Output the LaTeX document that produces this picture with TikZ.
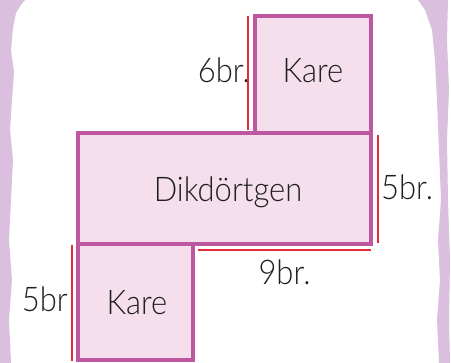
\documentclass[tikz,border=0pt]{standalone}
\usepackage{fontspec}
\setmainfont{Lato Light}
\usetikzlibrary{calc}
\definecolor{boxfill}{RGB}{245,223,237}
\definecolor{boxline}{RGB}{189,88,160}
\definecolor{dimred}{RGB}{232,40,60}
\definecolor{brush}{RGB}{218,192,222}
\newcommand{\narrowtxt}[1]{\scalebox{0.91}[1]{#1}}
\begin{document}
\begin{tikzpicture}[x=1pt,y=-1pt,
  shapebox/.style={draw=boxline, fill=boxfill, line width=3.2pt, inner sep=0pt, outer sep=0pt},
  dim/.style={draw=dimred, line width=1.3pt},
  lbl/.style={font=\fontsize{34}{34}\selectfont, inner sep=0pt, text=black!88, anchor=base}]
\useasboundingbox (0,0) rectangle (451,363);
\fill[white] (0,0) rectangle (451,363);
% brush strokes
\fill[brush] (0,0) -- (25,0) -- (21,5) -- (16,13) -- (13,28) -- (11,50) -- (14,72) -- (12,100) -- (10,130) -- (13,160) -- (11,200) -- (9,240) -- (12,280) -- (9,320) -- (11,363) -- (0,363) -- cycle;
\fill[brush] (418,0) -- (448,0) -- (447,40) -- (449,90) -- (447,140) -- (448,200) -- (450,260) -- (449,320) -- (450,363) -- (439,363) -- (437,320) -- (440,280) -- (438,240) -- (441,200) -- (439,150) -- (437,100) -- (435,60) -- (432,30) -- (425,10) -- cycle;
% shapes
\node[shapebox, minimum width=293pt, minimum height=111pt] (rect) at (224.5,188.5) {};
\node[shapebox, minimum width=116pt, minimum height=117pt] (sq1) at (313,74.5) {};
\node[shapebox, minimum width=115pt, minimum height=116pt] (sq2) at (135.5,302) {};
% labels
\node[lbl] (t1) at (313,83) {\narrowtxt{Kare}};
\node[lbl] (t2) at (228,202) {\narrowtxt{Dikdörtgen}};
\node[lbl] (t3) at (137,315) {\narrowtxt{Kare}};
\node[lbl, anchor=base east] (d1) at (250,83) {\narrowtxt{6br.}};
\node[lbl, anchor=base west] (d2) at (381,200) {\narrowtxt{5br.}};
\node[lbl] (d3) at (284.5,285) {\narrowtxt{9br.}};
\node[lbl, anchor=base east] (d4) at (68,312) {\narrowtxt{5br}};
% dimension lines
\draw[dim] ($(sq1.north west)+(-7,0)$) -- ($(sq1.south west)+(-7,-3)$);
\draw[dim] ($(rect.north east)+(7,2)$) -- ($(rect.south east)+(7,-1)$);
\draw[dim] ($(sq2.east |- rect.south)+(5,6)$) -- ($(rect.south east)+(0,6)$);
\draw[dim] ($(sq2.north west)+(-6,1)$) -- ($(sq2.south west)+(-6,1)$);
\end{tikzpicture}
\end{document}
